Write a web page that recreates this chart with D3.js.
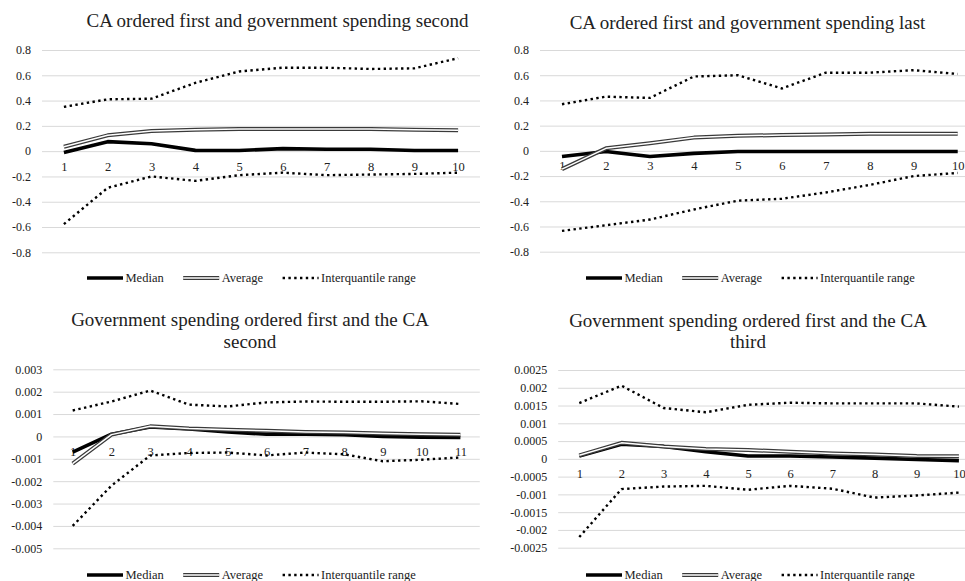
<!DOCTYPE html>
<html>
<head>
<meta charset="utf-8">
<script src="https://cdn.jsdelivr.net/npm/d3@7/dist/d3.min.js"></script>
<style>
  html, body { margin: 0; padding: 0; background: #fff; }
  svg { display: block; }
  text { font-family: "Liberation Serif", "Times New Roman", serif; fill: #222; }
</style>
</head>
<body>
<svg id="chart" width="965" height="581"></svg>
<script>
// Impulse responses of the current account: median, average and interquantile bands

const horizons10 = [1, 2, 3, 4, 5, 6, 7, 8, 9, 10];
const horizons11 = [1, 2, 3, 4, 5, 6, 7, 8, 9, 10, 11];

const seriesNames = ["Median", "Average", "Interquantile range"];

// CA ordered first, government spending second
const caSecondMedian  = [-0.01, 0.075, 0.058, 0.006, 0.005, 0.02, 0.015, 0.015, 0.005, 0.005];
const caSecondAverage = [0.035, 0.125, 0.16, 0.17, 0.175, 0.175, 0.175, 0.175, 0.17, 0.165];
const caSecondUpper   = [0.35, 0.41, 0.415, 0.54, 0.63, 0.66, 0.66, 0.65, 0.655, 0.735];
const caSecondLower   = [-0.577, -0.29, -0.2, -0.235, -0.19, -0.17, -0.19, -0.185, -0.18, -0.17];

// CA ordered first, government spending last
const caLastMedian  = [-0.045, -0.005, -0.045, -0.02, -0.005, -0.005, -0.005, -0.005, -0.005, -0.005];
const caLastAverage = [-0.145, 0.02, 0.06, 0.105, 0.12, 0.125, 0.13, 0.135, 0.135, 0.135];
const caLastUpper   = [0.37, 0.43, 0.42, 0.59, 0.60, 0.495, 0.62, 0.62, 0.64, 0.61];
const caLastLower   = [-0.635, -0.59, -0.545, -0.465, -0.395, -0.38, -0.33, -0.27, -0.2, -0.175];

// Government spending ordered first, CA second
const gsSecondMedian  = [-0.0007, 0.0001, 0.00042, 0.00033, 0.0002, 0.0001, 0.0001, 0.00008, 0.0, -0.00003, -0.00005];
const gsSecondAverage = [-0.00122, 0.00008, 0.00045, 0.00035, 0.0003, 0.00025, 0.0002, 0.00017, 0.00013, 0.0001, 0.00008];
const gsSecondUpper   = [0.00116, 0.00156, 0.00205, 0.00142, 0.00134, 0.00152, 0.00156, 0.00155, 0.00155, 0.00157, 0.00145];
const gsSecondLower   = [-0.004, -0.0022, -0.00085, -0.00074, -0.00072, -0.00085, -0.00072, -0.0008, -0.00111, -0.00104, -0.00094];

// Government spending ordered first, CA third
const gsThirdMedian  = [0.00008, 0.00041, 0.00035, 0.0002, 0.00008, 0.00008, 0.00005, 0.00002, -0.00002, -0.00005];
const gsThirdAverage = [0.0001, 0.00045, 0.00035, 0.00028, 0.00025, 0.0002, 0.00015, 0.00012, 0.00008, 0.00007];
const gsThirdUpper   = [0.00157, 0.00206, 0.00143, 0.00131, 0.00152, 0.00158, 0.00156, 0.00156, 0.00156, 0.00147];
const gsThirdLower   = [-0.0022, -0.00085, -0.00078, -0.00076, -0.00087, -0.00076, -0.00084, -0.00109, -0.00103, -0.00095];

const ticksTop    = [0.8, 0.6, 0.4, 0.2, 0, -0.2, -0.4, -0.6, -0.8];
const ticksGsCA2  = [0.003, 0.002, 0.001, 0, -0.001, -0.002, -0.003, -0.004, -0.005];
const ticksGsCA3  = [0.0025, 0.002, 0.0015, 0.001, 0.0005, 0, -0.0005, -0.001, -0.0015, -0.002, -0.0025];

const titleCaSecond = ["CA ordered first and government spending second"];
const titleCaLast   = ["CA ordered first and government spending last"];
const titleGsSecond = ["Government spending ordered first and the CA", "second"];
const titleGsThird  = ["Government spending ordered first and the CA", "third"];

// Panel geometry (pixels)
const panels = [
  { title: titleCaSecond, titleX: 277.5, titleY: 26.5, horizons: horizons10,
    median: caSecondMedian, average: caSecondAverage, upper: caSecondUpper, lower: caSecondLower,
    ticks: ticksTop, x0: 42, x1: 480, yTop: 50, yBottom: 252.3, legendX: 87, legendY: 278 },
  { title: titleCaLast, titleX: 747.5, titleY: 29, horizons: horizons10,
    median: caLastMedian, average: caLastAverage, upper: caLastUpper, lower: caLastLower,
    ticks: ticksTop, x0: 540, x1: 979.7, yTop: 50, yBottom: 251.7, legendX: 586, legendY: 278 },
  { title: titleGsSecond, titleX: 250, titleY: 326, horizons: horizons11,
    median: gsSecondMedian, average: gsSecondAverage, upper: gsSecondUpper, lower: gsSecondLower,
    ticks: ticksGsCA2, x0: 53.3, x1: 479.8, yTop: 369.3, yBottom: 548.3, legendX: 87, legendY: 575 },
  { title: titleGsThird, titleX: 748, titleY: 326.5, horizons: horizons10,
    median: gsThirdMedian, average: gsThirdAverage, upper: gsThirdUpper, lower: gsThirdLower,
    ticks: ticksGsCA3, x0: 558.2, x1: 980, yTop: 370, yBottom: 547.7, legendX: 586, legendY: 575 }
];

const svg = d3.select("#chart");

// Plain decimal labels with a hyphen for negatives
const fmtTick = v => {
  if (Math.abs(v) < 1e-12) return "0";
  return String(+v.toFixed(6));
};

const strokes = {
  median:  g => g.attr("stroke", "#000").attr("stroke-width", 3.6).attr("fill", "none")
                 .attr("stroke-linejoin", "round"),
  averageOuter: g => g.attr("stroke", "#3a3a3a").attr("stroke-width", 4).attr("fill", "none")
                 .attr("stroke-linejoin", "round"),
  averageInner: g => g.attr("stroke", "#fff").attr("stroke-width", 1.5).attr("fill", "none")
                 .attr("stroke-linejoin", "round"),
  band: g => g.attr("stroke", "#000").attr("stroke-width", 2.4).attr("fill", "none")
                 .attr("stroke-dasharray", "2.4,3.4")
};

panels.forEach(p => {
  const g = svg.append("g");
  const ticks = p.ticks;
  const yMin = d3.min(ticks), yMax = d3.max(ticks);

  const x = d3.scalePoint().domain(p.horizons).range([p.x0, p.x1]).padding(0.5);
  const y = d3.scaleLinear().domain([yMin, yMax]).range([p.yBottom, p.yTop]);

  // Title
  const t = g.append("text")
    .attr("x", p.titleX).attr("y", p.titleY)
    .attr("text-anchor", "middle")
    .style("font-size", "19px");
  p.title.forEach((line, i) => {
    t.append("tspan").attr("x", p.titleX).attr("dy", i === 0 ? 0 : 21.5).text(line);
  });

  // Value axis with full-width gridlines
  const yAxis = g.append("g")
    .attr("transform", `translate(${p.x0},0)`)
    .call(d3.axisLeft(y).tickValues(ticks).tickFormat(fmtTick)
      .tickSize(-(p.x1 - p.x0)).tickPadding(11));
  yAxis.attr("font-family", null);
  yAxis.select(".domain").remove();
  yAxis.selectAll(".tick line").attr("stroke", "#d9d9d9").attr("stroke-width", 1);
  yAxis.selectAll(".tick text").style("font-size", "12px").attr("fill", "#333")
    .style("font-family", "'Liberation Serif', serif");

  // Horizon labels hang just below the zero line
  const xAxis = g.append("g")
    .attr("transform", `translate(0,${y(0)})`)
    .call(d3.axisBottom(x).tickSize(0).tickPadding(10.5));
  xAxis.attr("font-family", null);
  xAxis.select(".domain").remove();
  xAxis.selectAll(".tick text").style("font-size", "12.5px").attr("fill", "#333")
    .style("font-family", "'Liberation Serif', serif");

  const line = d3.line().x(d => x(d[0])).y(d => y(d[1]));
  const pts = arr => p.horizons.map((h, i) => [h, arr[i]]);

  g.append("path").attr("d", line(pts(p.median))).call(strokes.median);
  g.append("path").attr("d", line(pts(p.average))).call(strokes.averageOuter);
  g.append("path").attr("d", line(pts(p.average))).call(strokes.averageInner);
  g.append("path").attr("d", line(pts(p.upper))).call(strokes.band);
  g.append("path").attr("d", line(pts(p.lower))).call(strokes.band);

  // Legend
  const lg = g.append("g").attr("transform", `translate(${p.legendX},${p.legendY})`);
  let cx = 0;
  const styleFns = [
    [strokes.median],
    [strokes.averageOuter, strokes.averageInner],
    [strokes.band]
  ];
  seriesNames.forEach((name, i) => {
    styleFns[i].forEach(fn => {
      lg.append("line").attr("x1", cx).attr("x2", cx + 36).attr("y1", 0).attr("y2", 0).call(fn);
    });
    const txt = lg.append("text").attr("x", cx + 38.5).attr("y", 4.3)
      .style("font-size", "12.5px").style("font-family", "'Liberation Serif', serif")
      .attr("fill", "#222").text(name);
    cx += 38.5 + txt.node().getComputedTextLength() + 19.5;
  });
});
</script>
</body>
</html>
